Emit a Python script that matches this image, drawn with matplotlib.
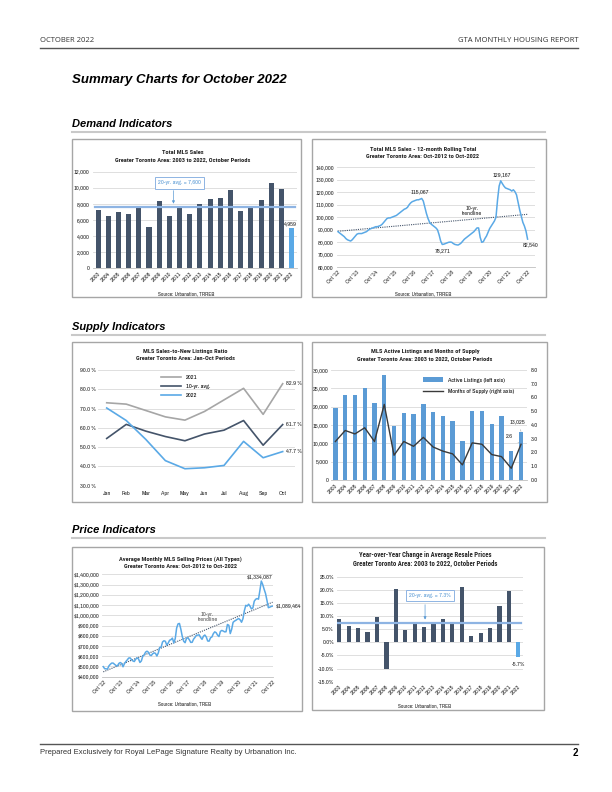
# Libraries
import matplotlib.pyplot as plt
import numpy as np
from matplotlib import font_manager as fm
from matplotlib.patches import Rectangle
from matplotlib.lines import Line2D


# Pick a narrow face (Arial Narrow look) from what is installed
def pick(cands, bold=False):
    for c in cands:
        faces = [f for f in fm.fontManager.ttflist if f.name == c]
        if not faces:
            continue
        if bold and not any(str(f.weight) in ('600', '700', 'bold', 'semibold') for f in faces):
            continue
        return c
    return 'Liberation Sans'


NARROW = pick(['Liberation Sans Narrow', 'Arial Narrow', 'Archivo Narrow', 'Roboto Condensed'])
NARROW_B = pick(['Liberation Sans Narrow', 'Arial Narrow', 'Archivo Narrow', 'Roboto Condensed',
                 'Asap Condensed'], bold=True)
plt.rcParams['font.family'] = [NARROW, 'Liberation Sans', 'DejaVu Sans']

# Data
years = [str(y) for y in range(2003, 2023)]
sales = [7200, 6550, 7050, 6700, 7600, 5100, 8300, 6500, 7500, 6800,
         7950, 8550, 8750, 9700, 7100, 7450, 8500, 10550, 9800, 4959]
sales_avg = 7600

month_ticks = ["Oct '12", "Oct '13", "Oct '14", "Oct '15", "Oct '16", "Oct '17",
               "Oct '18", "Oct '19", "Oct '20", "Oct '21", "Oct '22"]
# 12-month rolling MLS sales, thousands, Oct-2012 .. Oct-2022
rolling = [88.5, 87.5, 86.5,
           85.5, 84.5, 83, 82, 81.5, 81, 82, 83.5, 85, 86.5, 87, 87,
           87, 87.5, 88, 88.5, 89.5, 90.5, 91, 91.5, 92, 92.5, 92.5, 93,
           93.5, 94.5, 96, 97.5, 99, 99.5, 99.5, 100, 100.5, 101, 101.5, 102.5,
           103.5, 104.5, 105.5, 106.5, 107, 108, 110, 111.5, 112.5, 113, 113.5, 114,
           114, 114.5, 115.067, 113, 108, 103, 99, 96, 94.5, 93.5, 92.5, 91.5,
           90, 86, 81, 78.271, 78.5, 79, 79.5, 80, 80.2, 80, 79, 78.3,
           78, 77.8, 78.5, 79.5, 81, 82.5, 83.5, 84.5, 85.5, 86.5, 87.5, 88.5,
           90, 91.5, 91.5, 84, 80, 80.5, 83, 85, 88, 91, 93, 95,
           97, 100, 114, 125, 129.167, 127, 125, 123.5, 123, 122.5, 122, 121,
           122, 120.5, 118, 112, 106, 101, 96, 93, 89, 82.54]

months = ['Jan', 'Feb', 'Mar', 'Apr', 'May', 'Jun', 'Jul', 'Aug', 'Sep', 'Oct']
snlr_2021 = [73, 72.3, 69, 65.7, 64, 68.5, 74.5, 80.5, 67, 82.9]
snlr_avg = [54.5, 61.8, 58.3, 55.5, 53.3, 56.8, 58.8, 63.8, 51, 61.7]
snlr_2022 = [70.3, 63.8, 54, 43, 38.8, 39.3, 40.5, 53, 44.5, 47.7]

active = [19700, 23300, 23100, 25100, 21000, 28500, 14700, 18200, 17900, 20700,
          18600, 17500, 16200, 10600, 18900, 18900, 15400, 17400, 7800, 13025]
supply = [2.8, 3.6, 3.35, 3.8, 2.8, 5.5, 1.8, 2.8, 2.45, 3.1,
          2.4, 2.1, 1.9, 1.1, 2.7, 2.6, 1.85, 1.7, 0.85, 2.6]

# average price, thousands of $, Oct-2012 .. Oct-2022
price = [498, 478, 477,
         474, 505, 521, 533, 533, 521, 510, 504, 529, 538, 530, 497,
         526, 548, 564, 582, 584, 567, 554, 548, 571, 584, 573, 539,
         554, 600, 614, 640, 649, 639, 612, 606, 624, 633, 628, 602,
         632, 686, 688, 739, 751, 746, 709, 728, 756, 762, 777, 730,
         771, 875, 916, 920, 863, 793, 746, 732, 775, 780, 761, 735,
         736, 767, 784, 805, 806, 809, 783, 765, 796, 807, 788, 749,
         747, 780, 788, 820, 838, 830, 806, 792, 842, 852, 846, 838,
         839, 910, 902, 821, 863, 931, 943, 951, 961, 968, 955, 932,
         967, 1045, 1097, 1090, 1108, 1089, 1062, 1071, 1137, 1156, 1163, 1157,
         1242, 1334.087, 1300, 1254, 1212, 1146, 1074, 1079, 1086, 1089.464]

yoy = [9.0, 6.3, 5.6, 4.0, 9.8, -10.0, 20.5, 4.8, 7.0, 6.0,
       7.5, 9.0, 7.3, 21.0, 2.3, 3.4, 5.5, 13.8, 19.4, -5.7]
yoy_avg = 7.3

# Colours
DARK = '#44546a'
LIGHT = '#5aa9e6'
AVG = '#8eb4e3'
GRID = '#d9d9d9'
TXT = '#262626'
FS = 4.5

W, H = 612, 792
fig = plt.figure(figsize=(6.12, 7.92), dpi=100)


def px_axes(l, t, r, b):
    return fig.add_axes([l / W, 1 - b / H, (r - l) / W, (b - t) / H])


def page_text(x, y, s, **kw):
    fig.text(x / W, 1 - y / H, s, **kw)


def page_line(x0, x1, y, color, lw):
    fig.add_artist(Line2D([x0 / W, x1 / W], [1 - y / H] * 2,
                          transform=fig.transFigure, color=color, lw=lw))


def frame(l, t, r, b):
    fig.add_artist(Rectangle((l / W, 1 - b / H), (r - l) / W, (b - t) / H,
                             transform=fig.transFigure, fill=False,
                             ec='#a6a6a6', lw=1.0))


def style(ax, fs=FS):
    for s in ['top', 'right', 'left']:
        ax.spines[s].set_visible(False)
    ax.spines['bottom'].set_color('#bfbfbf')
    ax.spines['bottom'].set_linewidth(0.6)
    ax.tick_params(length=0, labelsize=fs, pad=2, colors=TXT)
    ax.grid(axis='y', color=GRID, lw=0.6)
    ax.set_axisbelow(True)


def chart_title(x, y, lines, fs=4.6, gap=6.6):
    for i, s in enumerate(lines):
        page_text(x, y + i * gap, s, ha='center', va='center', fontsize=fs,
                  weight='bold', color=TXT, family=[NARROW_B, 'Liberation Sans'])


def source(x, y, s):
    page_text(x, y, s, ha='center', va='center', fontsize=3.9, color=TXT)


# Page header / sections
page_text(40, 40, 'OCTOBER 2022', fontsize=5.5, color='#333333', va='center',
          family='Open Sans')
page_text(578, 40, 'GTA MONTHLY HOUSING REPORT', fontsize=5.5, color='#333333',
          va='center', ha='right', family='Open Sans')
page_line(40, 578, 48, '#555555', 1.0)
page_text(72, 80, 'Summary Charts for October 2022', fontsize=9.5, weight='bold',
          style='italic', va='center', family='Liberation Sans')
for y, s in [(124, 'Demand Indicators'), (327, 'Supply Indicators'),
             (530, 'Price Indicators')]:
    page_text(72, y, s, fontsize=8, weight='bold', style='italic', va='center',
              family='Liberation Sans')
    page_line(72, 545, y + 8, '#c9c9c9', 1.5)
page_line(40, 578, 744, '#555555', 1.0)
page_text(40, 753, 'Prepared Exclusively for Royal LePage Signature Realty by Urbanation Inc.',
          fontsize=5.5, color='#333333', va='center', family='Liberation Sans')
page_text(578, 753, '2', fontsize=7, weight='bold', ha='right', va='center',
          family='Liberation Sans')

frame(72, 139, 301, 297)
frame(312, 139, 546, 297)
frame(72, 342, 302, 502)
frame(312, 342, 547, 502)
frame(72, 547, 302, 711)
frame(312, 547, 544, 710)

# Chart 1: Total MLS sales
ax1 = px_axes(92.5, 171.7, 296.7, 268.3)
style(ax1)
x20 = np.arange(len(years))
ax1.bar(x20, sales, width=0.5, color=[DARK] * 19 + [LIGHT])
ax1.plot([-0.35, 19.35], [sales_avg] * 2, color=AVG, lw=1.6)
ax1.set_xlim(-0.55, 19.5)
ax1.set_ylim(0, 12000)
ax1.set_yticks(range(0, 12001, 2000))
ax1.set_yticklabels([f'{v:,}' for v in range(0, 12001, 2000)])
ax1.set_xticks(x20)
ax1.set_xticklabels(years, rotation=45, ha='right', rotation_mode='anchor')
ax1.text(8.0, 10600, '20-yr. avg. = 7,600', ha='center', va='center', fontsize=FS,
         color='#5b9bd5', bbox=dict(boxstyle='square,pad=0.5', fc='white', ec=AVG, lw=0.7))
ax1.annotate('', xy=(7.4, sales_avg + 80), xytext=(7.4, 10000),
             arrowprops=dict(arrowstyle='-|>', color='#5b9bd5', lw=0.5, mutation_scale=4))
ax1.text(18.85, sales[-1] + 250, f'{sales[-1]:,}', ha='center', va='bottom', fontsize=FS,
         color=TXT)
chart_title(183, 153, ['Total MLS Sales',
                       'Greater Toronto Area: 2003 to 2022, October Periods'])
source(186, 294, 'Source: Urbanation, TRREB')

# Chart 2: 12-month rolling total
ax2 = px_axes(336.7, 167.3, 535, 267.3)
style(ax2)
xm = np.arange(len(rolling))
roll = np.array(rolling) * 1000
fit = np.polyval(np.polyfit(xm, roll, 1), xm)
ax2.plot(xm, fit, color=DARK, lw=0.8, ls=(0, (1, 1)))
ax2.plot(xm, roll, color=LIGHT, lw=1.1)
ax2.set_xlim(-0.8, 124.7)
ax2.set_ylim(60000, 140000)
ax2.set_yticks(range(60000, 140001, 10000))
ax2.set_yticklabels([f'{v:,}' for v in range(60000, 140001, 10000)])
ax2.set_xticks(range(0, 121, 12))
ax2.set_xticklabels(month_ticks, rotation=45, ha='right', rotation_mode='anchor')
for xx, yy, s in [(52, 120000, '115,067'), (66.5, 73500, '78,271'),
                  (104, 134000, '129,167'), (122, 78000, '82,540')]:
    ax2.text(xx, yy, s, ha='center', va='center', fontsize=FS, color=TXT)
ax2.text(85, 105000, '10-yr.\ntrendline', ha='center', va='center', fontsize=FS,
         color=TXT, linespacing=1.1)
chart_title(423, 149.5, ['Total MLS Sales - 12-month Rolling Total',
                         'Greater Toronto Area: Oct-2012 to Oct-2022'], gap=7)
source(423, 294, 'Source: Urbanation, TRREB')

# Chart 3: sales-to-new-listings ratio
ax3 = px_axes(98.3, 370, 295, 485.7)
style(ax3)
ax3.spines['bottom'].set_visible(False)
x10 = np.arange(len(months))
ax3.plot(x10, snlr_2021, color='#a6a6a6', lw=1.2, label='2021')
ax3.plot(x10, snlr_avg, color=DARK, lw=1.2, label='10-yr. avg.')
ax3.plot(x10, snlr_2022, color=LIGHT, lw=1.2, label='2022')
ax3.set_xlim(-0.43, 9.63)
ax3.set_ylim(30, 90)
ax3.set_yticks(range(30, 91, 10))
ax3.set_yticklabels([f'{v:.1f} %' for v in range(30, 91, 10)])
ax3.set_xticks(x10)
ax3.set_xticklabels(months)
ax3.tick_params(axis='x', pad=4)
for ser in (snlr_2021, snlr_avg, snlr_2022):
    ax3.text(9.15, ser[-1], f'{ser[-1]:.1f} %', ha='left', va='center', fontsize=FS,
             color=TXT)
ax3.legend(loc='upper left', bbox_to_anchor=((158 - 98.3) / 196.7, 1 - 2 / 115.7),
           frameon=False, fontsize=FS, handlelength=3.2, labelspacing=0.6,
           borderaxespad=0)
chart_title(185, 352, ['MLS Sales-to-New Listings Ratio',
                       'Greater Toronto Area: Jan-Oct Periods'])

# Chart 4: active listings and months of supply
ax4 = px_axes(331, 370, 526.7, 480)
style(ax4)
ax4.bar(x20, active, width=0.45, color='#5b9bd5', label='Active Listings (left axis)')
ax4.set_xlim(-0.45, 19.58)
ax4.set_ylim(0, 30000)
ax4.set_yticks(range(0, 30001, 5000))
ax4.set_yticklabels([f'{v:,}' for v in range(0, 30001, 5000)])
ax4.set_xticks(x20)
ax4.set_xticklabels(years, rotation=45, ha='right', rotation_mode='anchor')
ax4b = ax4.twinx()
for s in ['top', 'right', 'left', 'bottom']:
    ax4b.spines[s].set_visible(False)
ax4b.plot(x20, supply, color='#3a3a3a', lw=1.0, label='Months of Supply (right axis)')
ax4b.set_ylim(0, 8)
ax4b.set_yticks(range(0, 9))
ax4b.set_yticklabels([f'{v:.1f}' for v in range(0, 9)])
ax4b.tick_params(length=0, labelsize=FS, pad=3, colors=TXT)
ax4.annotate('13,025', xy=(19, active[-1] + 200), xytext=(18.6, 15900), ha='center',
             va='center', fontsize=FS, color=TXT,
             arrowprops=dict(arrowstyle='-', color='#a6a6a6', lw=0.4))
ax4b.annotate('2.6', xy=(19, supply[-1]), xytext=(17.8, 3.15), ha='center', va='center',
              fontsize=FS, color=TXT,
              arrowprops=dict(arrowstyle='-', color='#a6a6a6', lw=0.4))
h1, l1 = ax4.get_legend_handles_labels()
h2, l2 = ax4b.get_legend_handles_labels()
ax4b.legend(h1 + h2, l1 + l2, loc='upper left',
            bbox_to_anchor=((420 - 331) / 195.7, 1 - 5 / 110), frameon=False,
            fontsize=FS, handlelength=3.2, labelspacing=1.0, borderaxespad=0)
chart_title(425, 352, ['MLS Active Listings and Months of Supply',
                       'Greater Toronto Area: 2003 to 2022, October Periods'])

# Chart 5: average monthly selling price
ax5 = px_axes(101.7, 574.3, 273.3, 676.7)
style(ax5)
xp = np.arange(len(price))
prc = np.array(price) * 1000
pfit = np.polyval(np.polyfit(xp, prc, 1), xp)
ax5.plot(xp, pfit, color=DARK, lw=0.8, ls=(0, (1, 1)))
ax5.plot(xp, prc, color=LIGHT, lw=1.1)
ax5.set_xlim(-1.1, 120.5)
ax5.set_ylim(400000, 1400000)
ax5.set_yticks(range(400000, 1400001, 100000))
ax5.set_yticklabels([f'${v:,}' for v in range(400000, 1400001, 100000)])
ax5.set_xticks(range(0, 121, 12))
ax5.set_xticklabels(month_ticks, rotation=45, ha='right', rotation_mode='anchor')
ax5.text(111, 1372000, '$1,334,087', ha='center', va='center', fontsize=FS, color=TXT)
ax5.text(122, prc[-1], '$1,089,464', ha='left', va='center', fontsize=FS, color=TXT)
ax5.text(74, 983000, '10-yr.\ntrendline', ha='center', va='center', fontsize=FS,
         color='#595959', linespacing=1.1)
chart_title(180, 559.5, ['Average Monthly MLS Selling Prices (All Types)',
                         'Greater Toronto Area: Oct-2012 to Oct-2022'])
source(185, 704, 'Source: Urbanation, TREB')

# Chart 6: year-over-year change in price
ax6 = px_axes(336.7, 576.7, 523.3, 681.7)
style(ax6)
ax6.spines['bottom'].set_visible(False)
ax6.bar(x20, yoy, width=0.45, color=[DARK] * 19 + [LIGHT])
ax6.plot([-0.3, 19.3], [yoy_avg] * 2, color=AVG, lw=1.6)
ax6.set_xlim(-0.28, 19.53)
ax6.set_ylim(-15, 25)
ax6.set_yticks(range(-15, 26, 5))
ax6.set_yticklabels([f'{v:.1f}%' for v in range(-15, 26, 5)])
ax6.set_xticks(x20)
ax6.set_xticklabels(years, rotation=45, ha='right', rotation_mode='anchor')
ax6.text(9.6, 17.8, '20-yr. avg. = 7.3%', ha='center', va='center', fontsize=FS,
         color='#5b9bd5', bbox=dict(boxstyle='square,pad=0.5', fc='white', ec=AVG, lw=0.7))
ax6.annotate('', xy=(9.1, yoy_avg + 0.3), xytext=(9.1, 15.4),
             arrowprops=dict(arrowstyle='-|>', color='#5b9bd5', lw=0.5, mutation_scale=4))
ax6.text(19, -8.6, f'{yoy[-1]:.1f}%', ha='center', va='center', fontsize=FS, color=TXT)
chart_title(425, 555, ['Year-over-Year Change in Average Resale Prices',
                       'Greater Toronto Area: 2003 to 2022, October Periods'], fs=4.9, gap=8.5)
source(425, 705.7, 'Source: Urbanation, TREB')

fig.savefig('out.png', dpi=100)
